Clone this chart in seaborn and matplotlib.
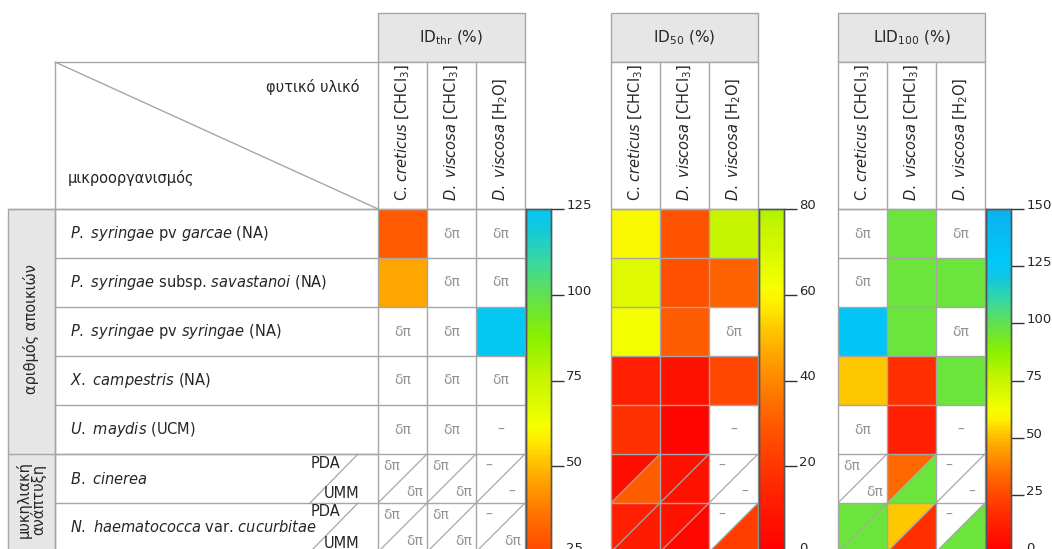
import matplotlib.pyplot as plt
import numpy as np
import pandas as pd
import seaborn as sns
from matplotlib.colors import LinearSegmentedColormap, ListedColormap, Normalize
from matplotlib.patches import Polygon, Rectangle

sns.set_style("white")
plt.rcParams["font.family"] = ["DejaVu Sans"]
plt.rcParams["mathtext.fontset"] = "custom"
plt.rcParams["mathtext.rm"] = "DejaVu Sans"
plt.rcParams["mathtext.it"] = "DejaVu Sans:italic"

# ---- δεδομένα ----
organisms = [
    r"$\mathit{P.}$ $\mathit{syringae}$ pv $\mathit{garcae}$ (NA)",
    r"$\mathit{P.}$ $\mathit{syringae}$ subsp. $\mathit{savastanoi}$ (NA)",
    r"$\mathit{P.}$ $\mathit{syringae}$ pv $\mathit{syringae}$ (NA)",
    r"$\mathit{X.}$ $\mathit{campestris}$ (NA)",
    r"$\mathit{U.}$ $\mathit{maydis}$ (UCM)",
    r"$\mathit{B.}$ $\mathit{cinerea}$",
    r"$\mathit{N.}$ $\mathit{haematococca}$ var. $\mathit{cucurbitae}$",
]
groups = ["αριθμός αποικιών", "μυκηλιακή\nανάπτυξη"]
group_sizes = [5, 2]
media = ["PDA", "UMM"]
plant_material = [
    r"C. $\mathit{creticus}$ [CHCl$_3$]",
    r"$\mathit{D.}$ $\mathit{viscosa}$ [CHCl$_3$]",
    r"$\mathit{D.}$ $\mathit{viscosa}$ [H$_2$O]",
]
titles = [r"ID$_{\mathrm{thr}}$ (%)", r"ID$_{50}$ (%)", r"LID$_{100}$ (%)"]

# ID_thr
thr_full = [[30, "δπ", "δπ"], [46, "δπ", "δπ"], ["δπ", "δπ", 125], ["δπ", "δπ", "δπ"], ["δπ", "δπ", "–"]]
thr_pda = [["δπ", "δπ", "–"], ["δπ", "δπ", "–"]]
thr_umm = [["δπ", "δπ", "–"], ["δπ", "δπ", "δπ"]]
thr_range = (25, 125)
thr_ticks = [25, 50, 75, 100, 125]

# ID50
id50_full = [[60, 28, 75], [68, 27, 32], [62, 30, "δπ"], [12, 7, 25], [18, 2, "–"]]
id50_pda = [[5, 7, "–"], [12, 7, "–"]]
id50_umm = [[30, 7, "–"], [10, 3, 22]]
id50_range = (0, 80)
id50_ticks = [0, 20, 40, 60, 80]

# LID100
lid_full = [["δπ", 97, "δπ"], ["δπ", 97, 97], [130, 97, "δπ"], [52, 17, 97], ["δπ", 12, "–"]]
lid_pda = [["δπ", 33, "–"], [97, 52, "–"]]
lid_umm = [["δπ", 97, "–"], [97, 17, 97]]
lid_range = (0, 150)
lid_ticks = [0, 25, 50, 75, 100, 125, 150]

# κοινή χρωματική κλίμακα 0-150
cmap_nodes = [0, 15, 25, 35, 45, 52, 58, 62, 75, 88, 100, 110, 120, 127, 150]
cmap_colors = ["#FF0000", "#FF2800", "#FF4800", "#FF7000", "#FFA000", "#FFC800", "#FFF000",
               "#F5FF00", "#C8F500", "#88F000", "#62E050", "#38D8A0", "#10C8E0", "#00C8F8", "#0CB0F0"]
base_cmap = LinearSegmentedColormap.from_list(
    "thr", list(zip([v / 150 for v in cmap_nodes], cmap_colors)))

W, H = 1052, 549
ROW0, CELL = 209, 49
HEAD1 = 62
LINE = "#A6A6A6"
GREY_FILL = "#E6E6E6"
MARK = "#939393"
TEXT = "#262626"
FS = 10.5

fig = plt.figure(figsize=(W / 100, H / 100), dpi=100)


def px_axes(x0, y0, x1, y1):
    return fig.add_axes([x0 / W, 1 - y1 / H, (x1 - x0) / W, (y1 - y0) / H])


# ---- αριστερό τμήμα πίνακα ----
bg = fig.add_axes([0, 0, 1, 1])
bg.set_xlim(0, W)
bg.set_ylim(H, 0)
bg.axis("off")
n_rows = len(organisms)
bottom = ROW0 + n_rows * CELL
bg.add_patch(Rectangle((8, ROW0), 47, bottom - ROW0, facecolor=GREY_FILL, edgecolor=LINE, lw=1))
bg.plot([55, 378], [HEAD1, HEAD1], color=LINE, lw=1)
bg.plot([55, 55], [HEAD1, bottom], color=LINE, lw=1)
bg.plot([55, 378], [HEAD1, ROW0], color=LINE, lw=1)
bg.text(359, 87, "φυτικό υλικό", ha="right", va="center", fontsize=FS, color=TEXT)
bg.text(68, 178, "μικροοργανισμός", ha="left", va="center", fontsize=FS, color=TEXT)

start = 0
for g, size in zip(groups, group_sizes):
    y_top = ROW0 + start * CELL
    y_bot = min(y_top + size * CELL, H)
    bg.plot([8, 378], [y_top, y_top], color=LINE, lw=1)
    bg.text(31, (y_top + y_bot) / 2 - 2, g, rotation=90, ha="center", va="center",
            fontsize=FS, color=TEXT, linespacing=0.95)
    start += size
for i, name in enumerate(organisms):
    y_top = ROW0 + i * CELL
    bg.plot([55, 378], [y_top, y_top], color=LINE, lw=1)
    bg.text(70, y_top + CELL / 2, name, ha="left", va="center", fontsize=FS, color=TEXT)
for i in range(group_sizes[0], n_rows):
    y_top = ROW0 + i * CELL
    bg.text(340, y_top + 9, media[0], ha="right", va="center", fontsize=FS, color=TEXT)
    bg.text(359, y_top + 40, media[1], ha="right", va="center", fontsize=FS, color=TEXT)
    bg.plot([310, 358], [y_top + CELL, y_top], color=LINE, lw=0.9)


# ---- πάνελ θερμικού χάρτη ----
def draw_panel(x0, full, pda, umm, vrange, ticks, title):
    vmin, vmax = vrange
    ax = px_axes(x0, ROW0, x0 + 3 * CELL, ROW0 + n_rows * CELL)
    cax = px_axes(x0 + 3 * CELL + 1, ROW0, x0 + 3 * CELL + 26, ROW0 + n_rows * CELL)
    cmap = ListedColormap(base_cmap(np.linspace(vmin / 150, vmax / 150, 256)))
    norm = Normalize(vmin, vmax)

    rows = [[np.nan if isinstance(v, str) else v for v in r] for r in full]
    rows += [[np.nan] * 3 for _ in pda]
    vals = pd.DataFrame(rows, columns=plant_material)
    sns.heatmap(vals, ax=ax, cmap=cmap, vmin=vmin, vmax=vmax, mask=vals.isna(),
                cbar_ax=cax, cbar_kws={"ticks": ticks},
                xticklabels=False, yticklabels=False)

    for r, row in enumerate(full):
        for c, v in enumerate(row):
            if isinstance(v, str):
                ax.text(c + 0.5, r + 0.5, v, ha="center", va="center", color=MARK, fontsize=10)

    for k, (rp, ru) in enumerate(zip(pda, umm)):
        r = len(full) + k
        for c, (p, u) in enumerate(zip(rp, ru)):
            if isinstance(p, str):
                ax.text(c + 0.27, r + 0.24, p, ha="center", va="center", color=MARK, fontsize=10)
            else:
                ax.add_patch(Polygon([(c, r), (c + 1, r), (c, r + 1)], closed=True,
                                     facecolor=cmap(norm(p)), edgecolor="none"))
            if isinstance(u, str):
                ax.text(c + 0.74, r + 0.77, u, ha="center", va="center", color=MARK, fontsize=10)
            else:
                ax.add_patch(Polygon([(c + 1, r), (c + 1, r + 1), (c, r + 1)], closed=True,
                                     facecolor=cmap(norm(u)), edgecolor="none"))
            ax.plot([c, c + 1], [r + 1, r], color=LINE, lw=0.9)

    ax.hlines(range(n_rows + 1), 0, 3, color=LINE, lw=1, clip_on=False)
    ax.vlines(range(4), 0, n_rows, color=LINE, lw=1, clip_on=False)

    # κεφαλίδες
    ax.add_patch(Rectangle((0, -4), 3, 1, facecolor=GREY_FILL, edgecolor=LINE, lw=1, clip_on=False))
    ax.add_patch(Rectangle((0, -3), 3, 3, facecolor="white", edgecolor=LINE, lw=1, clip_on=False))
    ax.vlines([1, 2], -3, 0, color=LINE, lw=1, clip_on=False)
    ax.text(1.5, -3.5, title, ha="center", va="center", fontsize=11, color=TEXT, clip_on=False)
    for c, lab in enumerate(plant_material):
        ax.text(c + 0.5, -0.17, lab, rotation=90, ha="center", va="bottom", fontsize=FS,
                color=TEXT, clip_on=False)

    cax.yaxis.set_ticks_position("right")
    cax.tick_params(length=9, width=1, color="#333333", labelsize=9.5, labelcolor=TEXT, pad=2)
    for lbl in cax.get_yticklabels():
        lbl.set_va("baseline")
    for sp in cax.spines.values():
        sp.set_visible(True)
        sp.set_color("#555555")
        sp.set_linewidth(1)


draw_panel(378, thr_full, thr_pda, thr_umm, thr_range, thr_ticks, titles[0])
draw_panel(611, id50_full, id50_pda, id50_umm, id50_range, id50_ticks, titles[1])
draw_panel(838, lid_full, lid_pda, lid_umm, lid_range, lid_ticks, titles[2])

fig.savefig("out.png", dpi=100)
